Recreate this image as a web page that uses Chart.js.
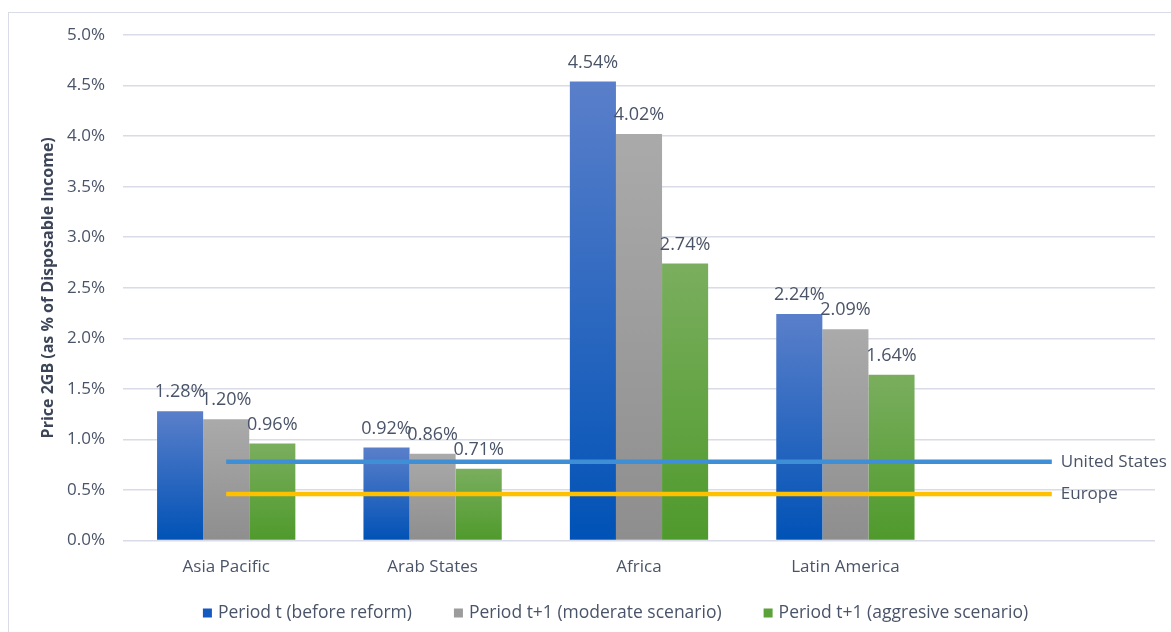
<!DOCTYPE html>
<html lang="en">
<head>
    <meta charset="UTF-8">
    <script src="https://cdn.jsdelivr.net/npm/chart.js@4/dist/chart.umd.min.js"></script>
    <title>Price 2GB as % of disposable income</title>
    <style type="text/css">
        html, body {
            margin: 0;
            padding: 0;
            overflow: hidden;
            background: #ffffff;
        }
        #frame {
            position: absolute;
            left: 8px;
            top: 12px;
            width: 1300px;
            height: 800px;
            border: 1.5px solid #d9dce6;
        }
        #wrap {
            position: absolute;
            left: 0;
            top: 0;
            width: 1171px;
            height: 632px;
        }
    </style>
</head>
<body>
    <div id="frame"></div>
    <div id="wrap">
        <canvas id="priceCanvas" width="1171" height="632"></canvas>
    </div>
<script>
// regions (last slot is left empty so the reference lines run past the bars)
var regions = ["Asia Pacific", "Arab States", "Africa", "Latin America", ""];
var periodT = [1.28, 0.92, 4.54, 2.24, null];
var moderate = [1.20, 0.86, 4.02, 2.09, null];
var aggressive = [0.96, 0.71, 2.74, 1.64, null];
var unitedStates = [0.78, 0.78, 0.78, 0.78, 0.78];
var europe = [0.46, 0.46, 0.46, 0.46, 0.46];
var seriesNames = ["Period t (before reform)", "Period t+1 (moderate scenario)", "Period t+1 (aggresive scenario)"];
var legendColors = ["#1459c0", "#9c9c9c", "#5ca23a"];
var yTicks = [0, 0.5, 1, 1.5, 2, 2.5, 3, 3.5, 4, 4.5, 5];

var textColor = "#4a5468";
var fontFamily = "'Open Sans', sans-serif";

// vertical gradient per bar, light at the top and dark at the base
function barGradient(topColor, bottomColor) {
    return function (ctx) {
        var chart = ctx.chart;
        if (!chart.chartArea || ctx.type !== 'data' || ctx.raw == null) return bottomColor;
        var y = chart.scales.y;
        var yTop = y.getPixelForValue(ctx.raw);
        var yBot = y.getPixelForValue(0);
        if (!isFinite(yTop) || yBot - yTop < 1) return bottomColor;
        var g = chart.ctx.createLinearGradient(0, yTop, 0, yBot);
        g.addColorStop(0, topColor);
        g.addColorStop(1, bottomColor);
        return g;
    };
}

// percentage labels above each bar + names at the end of the reference lines
var barLabels = {
    id: 'barLabels',
    afterDatasetsDraw: function (chart) {
        var c = chart.ctx;
        c.save();
        c.font = "18px " + fontFamily;
        c.fillStyle = textColor;
        c.textAlign = "center";
        c.textBaseline = "bottom";
        chart.data.datasets.forEach(function (ds, i) {
            if (ds.type === 'line') return;
            var meta = chart.getDatasetMeta(i);
            meta.data.forEach(function (bar, j) {
                var v = ds.data[j];
                if (v == null) return;
                c.fillText(v.toFixed(2) + "%", bar.x, bar.y - 10);
            });
        });
        c.textAlign = "left";
        c.textBaseline = "middle";
        c.font = "17px " + fontFamily;
        chart.data.datasets.forEach(function (ds, i) {
            if (ds.type !== 'line') return;
            var pts = chart.getDatasetMeta(i).data;
            var last = pts[pts.length - 1];
            c.fillText(ds.label, last.x + 9, last.y);
        });
        c.restore();
    }
};

// legend row for the three bar series, with wide gaps between entries
var seriesLegend = {
    id: 'seriesLegend',
    afterDraw: function (chart) {
        var c = chart.ctx;
        var box = 9, gap = 6, spacing = 42, y = 613;
        c.save();
        c.font = "17.5px " + fontFamily;
        c.textBaseline = "middle";
        c.textAlign = "left";
        var widths = seriesNames.map(function (t) { return box + gap + c.measureText(t).width; });
        var total = widths.reduce(function (a, b) { return a + b; }, 0) + spacing * (widths.length - 1);
        var x = (chart.width - total) / 2 + 30;
        seriesNames.forEach(function (t, i) {
            c.fillStyle = legendColors[i];
            c.fillRect(x, y - box / 2, box, box);
            c.fillStyle = textColor;
            c.fillText(t, x + box + gap, y);
            x += widths[i] + spacing;
        });
        c.restore();
    }
};

var ctx = document.getElementById("priceCanvas");
var priceChart = new Chart(ctx, {
    type: 'bar',
    data: {
        labels: regions,
        datasets: [
        {
            type: 'line',
            label: 'United States',
            data: unitedStates,
            borderColor: "#3f8fd6",
            borderWidth: 4.5,
            pointRadius: 0,
            order: 0
        },
        {
            type: 'line',
            label: 'Europe',
            data: europe,
            borderColor: "#ffc000",
            borderWidth: 4.5,
            pointRadius: 0,
            order: 0
        },
        {
            label: seriesNames[0],
            data: periodT,
            backgroundColor: barGradient("#5a7fca", "#0052b6"),
            order: 1
        },
        {
            label: seriesNames[1],
            data: moderate,
            backgroundColor: barGradient("#aaaaaa", "#8e8e8e"),
            order: 1
        },
        {
            label: seriesNames[2],
            data: aggressive,
            backgroundColor: barGradient("#7aae5e", "#4f9a2c"),
            order: 1
        }]
    },
    options: {
        responsive: false,
        animation: false,
        layout: {
            padding: {left: 39, right: 16, top: 35, bottom: 39}
        },
        datasets: {
            bar: {categoryPercentage: 0.67, barPercentage: 1.0}
        },
        plugins: {
            tooltip: {enabled: false},
            legend: {display: false}
        },
        scales: {
            x: {
                grid: {display: false, drawTicks: false},
                border: {display: false},
                ticks: {
                    padding: 16,
                    color: textColor,
                    font: {family: fontFamily, size: 17}
                }
            },
            y: {
                min: 0,
                max: 5,
                afterBuildTicks: function (scale) {
                    scale.ticks = yTicks.map(function (v) { return {value: v}; });
                },
                afterFit: function (scale) {
                    scale.width = 84;
                },
                grid: {color: "#d9dce6", lineWidth: 1.5, drawTicks: false},
                border: {display: false},
                ticks: {
                    padding: 18,
                    color: textColor,
                    font: {family: fontFamily, size: 17},
                    callback: function (v) { return Number(v).toFixed(1) + "%"; }
                },
                title: {
                    display: true,
                    text: "Price 2GB (as % of Disposable Income)",
                    color: "#3d4658",
                    padding: {top: 0, bottom: 0},
                    font: {family: fontFamily, size: 16, weight: 'bold'}
                }
            }
        }
    },
    plugins: [barLabels, seriesLegend]
});
</script>
</body>
</html>
